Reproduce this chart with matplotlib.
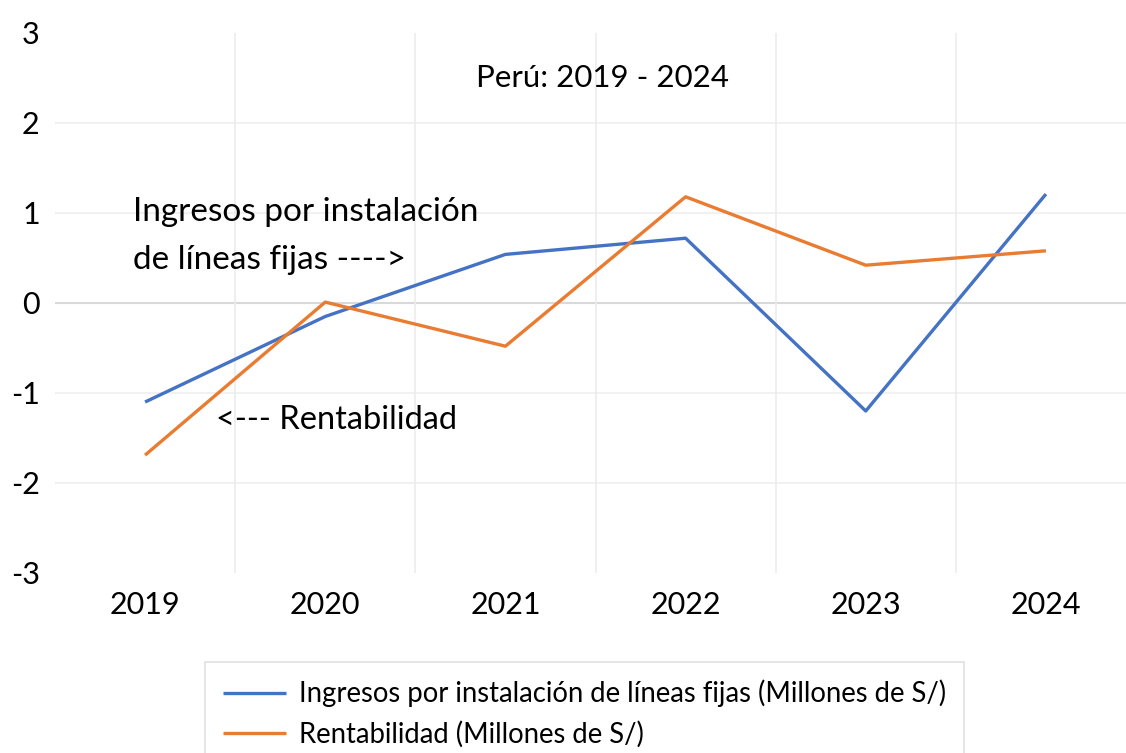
import matplotlib
matplotlib.use("Agg")
import matplotlib.pyplot as plt
import numpy as np

plt.rcParams['font.family'] = ['Lato', 'DejaVu Sans']

years = ["2019", "2020", "2021", "2022", "2023", "2024"]
ingresos = [-1.10, -0.15, 0.54, 0.72, -1.20, 1.21]
rentabilidad = [-1.69, 0.01, -0.48, 1.18, 0.42, 0.58]
y_ticks = [-3, -2, -1, 0, 1, 2, 3]

label_ing = "Ingresos por instalación de líneas fijas (Millones de S/)"
label_ren = "Rentabilidad (Millones de S/)"
title = "Perú: 2019 - 2024"

W, H = 1126, 753
fig = plt.figure(figsize=(W / 100, H / 100), dpi=100)
ax = fig.add_axes([55 / W, 1 - 573 / H, 1081 / W, 540 / H])

x = np.arange(len(years))
ax.set_xlim(-0.5, len(years) - 0.5)
ax.set_ylim(-3, 3)

# grid
for v in [-2, -1, 1, 2]:
    ax.axhline(v, color="#f0f0f0", lw=1.3, zorder=0)
ax.axhline(0, color="#d9d9d9", lw=1.5, zorder=0)
for v in x[:-1] + 0.5:
    ax.axvline(v, color="#ececec", lw=1.2, zorder=0)

l1, = ax.plot(x, ingresos, color="#4472C4", lw=2.4, label=label_ing, solid_capstyle="butt")
l2, = ax.plot(x, rentabilidad, color="#E97C30", lw=2.4, label=label_ren, solid_capstyle="butt")

for s in ax.spines.values():
    s.set_visible(False)
ax.set_xticks(x)
ax.set_xticklabels(years, fontsize=22)
ax.set_yticks(y_ticks)
ax.set_yticklabels([str(t) for t in y_ticks], fontsize=22)
ax.tick_params(axis="both", length=0)
ax.tick_params(axis="x", pad=13)
ax.tick_params(axis="y", pad=11)

fig.text(602 / W, 1 - 78 / H, title, ha="center", va="center", fontsize=22.5)
fig.text(133 / W, 1 - 212 / H, "Ingresos por instalación", ha="left", va="center", fontsize=24)
fig.text(133 / W, 1 - 260 / H, "de líneas fijas ---->", ha="left", va="center", fontsize=24)
fig.text(216 / W, 1 - 420 / H, "<--- Rentabilidad", ha="left", va="center", fontsize=23.5)

leg = fig.legend(handles=[l1, l2], loc="upper left", bbox_to_anchor=(205 / W, 1 - 662 / H),
                 fontsize=19.8, frameon=True, fancybox=False, edgecolor="#d9d9d9",
                 handlelength=2.3, handletextpad=0.47, labelspacing=0.5, borderpad=0.65,
                 borderaxespad=0)
leg.get_frame().set_linewidth(1.2)

fig.savefig("out.png", dpi=100)
